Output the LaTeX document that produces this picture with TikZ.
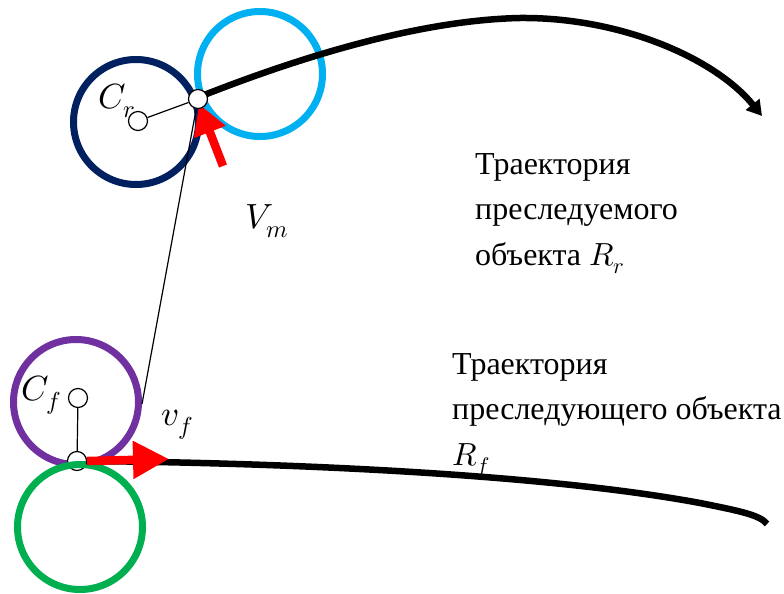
\documentclass[tikz,border=0pt]{standalone}
\usepackage{fontspec}
\usepackage{unicode-math}
\setmainfont{Liberation Serif}
\usetikzlibrary{arrows.meta}
\definecolor{navyc}{HTML}{002060}
\definecolor{skyc}{HTML}{00B0F0}
\definecolor{purplec}{HTML}{7030A0}
\definecolor{greenc}{HTML}{00B050}
\begin{document}
\begin{tikzpicture}[x=1pt,y=-1pt,
  wheel/.style={circle, draw=#1, line width=7pt, minimum size=125pt, inner sep=0pt},
  joint/.style={circle, draw=black, fill=white, line width=1.2pt, minimum size=19pt, inner sep=0pt},
  traj/.style={line width=6.5pt, black},
  vel/.style={line width=8.5pt, red},
  lbl/.style={font=\fontsize{35}{40}\selectfont, inner sep=0pt},
  txt/.style={font=\fontsize{32}{45.5}\selectfont, align=left, anchor=north west, inner sep=0pt}]
\useasboundingbox (0,0) rectangle (784,594);
% top pair
\node[wheel=navyc] (cr) at (136,122) {};
\node[wheel=skyc] (cb) at (260,74) {};
% bottom pair
\node[wheel=purplec] (cf) at (76,402) {};
\node[joint] (jf) at (77,461) {};
\node[wheel=greenc] (cg) at (80,527) {};
% trajectories
\coordinate (rs) at (199,97);
\coordinate (re) at (762,116);
\draw[traj, -{Triangle[length=15pt,width=17pt]}] (rs) .. controls (300,57) and (420,20) .. (520,18)
   .. controls (620,17) and (715,58) .. (re);
\coordinate (fs) at (86,461);
\draw[traj] (fs) .. controls (300,463) and (550,475) .. (700,503)
   .. controls (740,511) and (760,515) .. (767,524);
% velocity arrows
\coordinate (vma) at (223,166);
\coordinate (vmb) at (199,104);
\draw[vel, -{Triangle[length=30pt,width=32pt]}] (vma) -- (vmb);
\coordinate (vfb) at (169,459);
\draw[vel, -{Triangle[length=36pt,width=36pt]}] (jf.east) -- (vfb);
% thin link line
\coordinate (la) at (142,404);
\node[joint] (jr) at (198,99) {};
\node[joint] (cc) at (138,121) {};
\node[joint] (fc) at (78,398) {};
\draw[line width=1.2pt] (la) -- (jr);
\draw[line width=1.2pt] (cc) -- (jr);
\draw[line width=1.2pt] (fc) -- (jf);
% labels
\node[lbl] (lcr) at (117,101) {$C_r$};
\node[lbl] (lcf) at (41,395) {$C_f$};
\node[lbl] (lvm) at (267,221) {$V_m$};
\node[lbl] (lvf) at (177,425) {$v_f$};
\node[txt] (t1) at (475,153) {Траектория\\преследуемого\\объекта $R_r$};
\node[txt] (t2) at (452,353) {Траектория\\преследующего объекта\\$R_f$};
\end{tikzpicture}
\end{document}
